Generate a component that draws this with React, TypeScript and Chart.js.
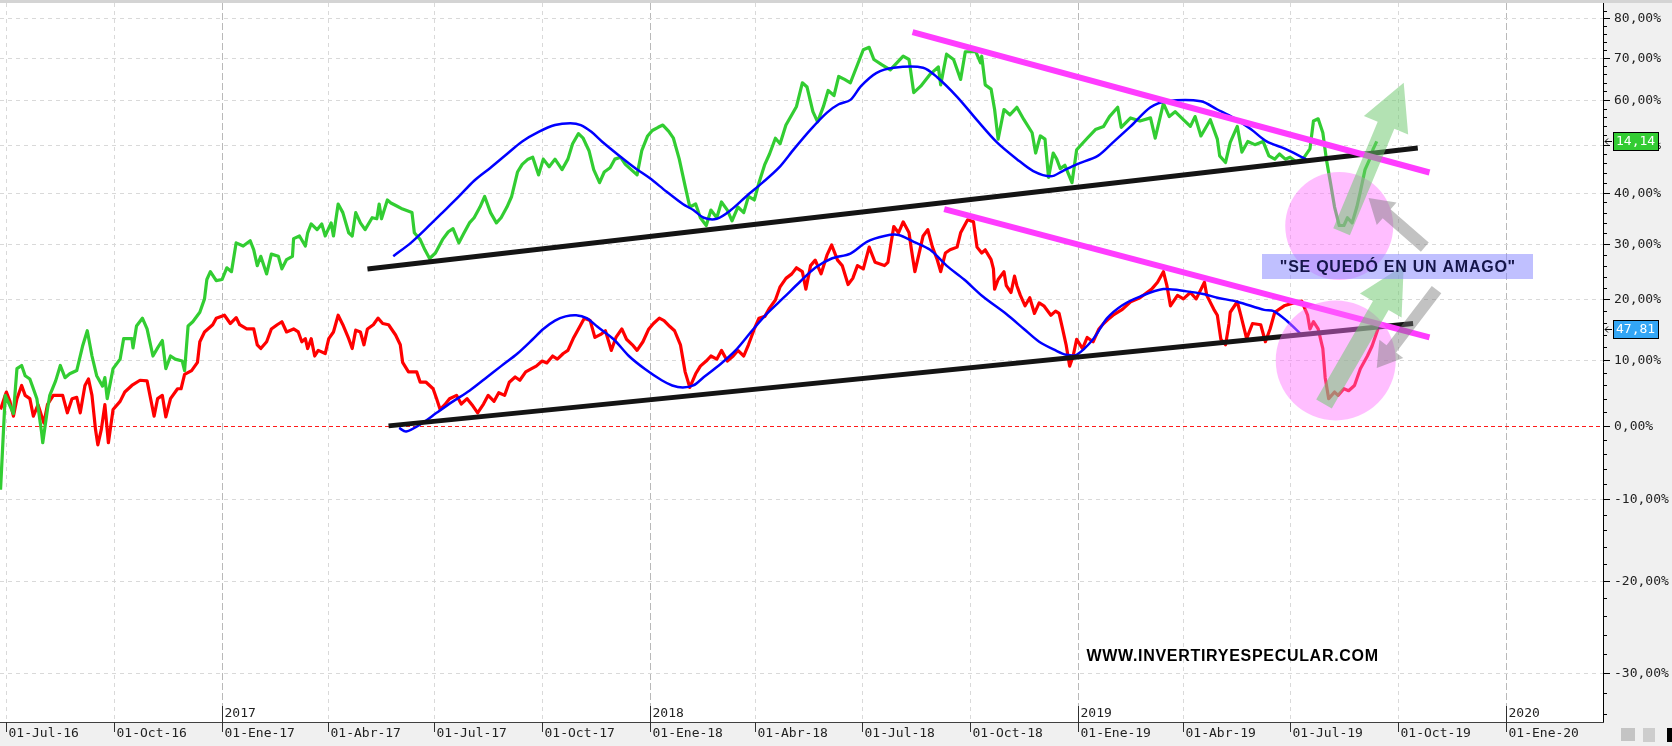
import { useEffect, useRef } from 'react';
import { Chart, registerables } from 'chart.js';

Chart.register(...registerables);

// x values are days since 2016-07-01, y values are % change
const quarterDates = ['2016-07-01', '2016-10-01', '2017-01-01', '2017-04-01', '2017-07-01', '2017-10-01', '2018-01-01', '2018-04-01', '2018-07-01', '2018-10-01', '2019-01-01', '2019-04-01', '2019-07-01', '2019-10-01', '2020-01-01'];
const quarterLabels = ['01-Jul-16', '01-Oct-16', '01-Ene-17', '01-Abr-17', '01-Jul-17', '01-Oct-17', '01-Ene-18', '01-Abr-18', '01-Jul-18', '01-Oct-18', '01-Ene-19', '01-Abr-19', '01-Jul-19', '01-Oct-19', '01-Ene-20'];
const yearDates = ['2017-01-01', '2018-01-01', '2019-01-01', '2020-01-01'];
const yearLabels = ['2017', '2018', '2019', '2020'];
const yTickPct = [80, 70, 60, 50, 40, 30, 20, 10, 0, -10, -20, -30];
const lastValueLabels = ['14,14', '47,81'];

const greenSeries = [
  [-5, -8.8], [-1, 4.5], [6, 1.8], [9, 8.6], [13, 9.1], [16, 7.5], [20, 7.0], [23, 5.5], [26, 4.0], [30, -0.9], [31, -2.4], [35, 2.4], [37, 4.5], [42, 6.7], [46, 9.1], [50, 7.2], [54, 7.8], [60, 8.3], [65, 12.2], [69, 14.7], [73, 10.6], [77, 7.5], [82, 5.9], [84, 7.2], [86, 4.0], [91, 8.6], [97, 10.1], [100, 13.4], [107, 13.4], [108, 11.9], [111, 15.5], [116, 16.8], [120, 15.0], [125, 10.6], [129, 11.9], [133, 13.1], [136, 8.6], [140, 10.6], [144, 10.1], [150, 9.8], [152, 8.3], [155, 15.5], [159, 16.2], [165, 17.8], [169, 20.1], [171, 23.5], [174, 24.9], [179, 23.3], [184, 23.5], [188, 25.6], [192, 24.9], [196, 30.2], [202, 29.6], [208, 30.6], [211, 28.9], [214, 26.0], [217, 27.7], [222, 24.5], [226, 28.1], [232, 27.7], [235, 25.4], [239, 27.1], [244, 27.7], [245, 31.0], [250, 31.5], [255, 29.6], [257, 32.1], [260, 33.8], [265, 32.7], [269, 33.8], [272, 31.5], [277, 34.0], [279, 31.5], [283, 37.7], [287, 36.0], [292, 32.1], [295, 31.5], [298, 36.0], [302, 34.0], [306, 32.7], [312, 35.0], [316, 34.8], [318, 37.7], [320, 34.8], [325, 38.5], [328, 37.9], [333, 37.3], [338, 36.7], [346, 36.0], [348, 32.1], [353, 30.8], [357, 28.9], [361, 27.3], [366, 28.3], [372, 30.8], [377, 32.3], [381, 32.9], [386, 30.2], [390, 31.9], [395, 34.0], [399, 35.0], [404, 37.1], [408, 39.2], [413, 36.0], [418, 34.0], [422, 35.0], [427, 37.1], [431, 39.2], [436, 44.2], [440, 45.8], [445, 46.9], [449, 47.3], [454, 43.6], [458, 46.9], [463, 45.3], [468, 46.9], [474, 44.7], [479, 46.9], [483, 50.2], [488, 52.4], [492, 51.4], [497, 48.7], [501, 44.7], [506, 42.0], [510, 44.2], [515, 45.1], [519, 46.9], [524, 47.3], [528, 45.8], [533, 44.7], [538, 43.6], [542, 48.7], [547, 51.9], [551, 53.1], [556, 53.8], [560, 54.3], [565, 52.9], [569, 51.4], [574, 46.9], [579, 41.3], [583, 37.1], [588, 37.7], [592, 35.0], [597, 33.5], [601, 36.5], [606, 35.0], [610, 38.1], [615, 36.5], [619, 34.4], [624, 37.1], [629, 36.0], [633, 39.2], [638, 38.5], [642, 42.0], [647, 45.8], [651, 48.0], [656, 51.4], [660, 50.2], [665, 54.3], [670, 56.6], [674, 58.5], [679, 64.0], [683, 63.0], [688, 57.3], [692, 55.0], [697, 58.5], [701, 62.2], [706, 61.0], [710, 65.5], [715, 64.8], [720, 64.0], [731, 72.0], [736, 72.6], [740, 69.6], [747, 68.3], [754, 67.1], [765, 70.4], [770, 69.6], [774, 61.7], [780, 63.2], [788, 66.0], [795, 67.8], [797, 63.5], [802, 70.9], [808, 69.6], [814, 64.8], [818, 71.5], [827, 71.5], [831, 68.8], [832, 70.4], [835, 63.5], [840, 62.5], [843, 57.8], [846, 51.2], [851, 57.8], [856, 56.6], [862, 58.3], [868, 55.5], [875, 52.6], [878, 48.2], [882, 51.9], [886, 51.2], [889, 43.1], [893, 48.2], [896, 46.9], [899, 44.9], [903, 45.6], [909, 42.0], [913, 48.9], [922, 51.4], [929, 53.3], [936, 54.0], [941, 56.2], [948, 58.3], [951, 53.8], [959, 55.9], [967, 55.2], [976, 55.9], [980, 51.4], [987, 59.2], [992, 56.2], [997, 57.3], [1004, 55.5], [1010, 54.0], [1014, 56.2], [1019, 51.9], [1027, 55.5], [1033, 51.2], [1035, 47.6], [1040, 46.2], [1044, 50.5], [1050, 54.0], [1054, 48.4], [1059, 50.7], [1065, 50.0], [1072, 50.7], [1077, 47.6], [1082, 46.9], [1086, 48.0], [1091, 46.9], [1095, 47.3], [1100, 46.4], [1106, 46.9], [1112, 49.1], [1115, 55.2], [1119, 55.7], [1123, 52.6], [1126, 46.9], [1130, 41.3], [1133, 37.1], [1137, 33.5], [1141, 33.5], [1144, 35.0], [1148, 34.0], [1152, 37.1], [1155, 40.2], [1159, 44.7], [1163, 46.9], [1166, 49.1], [1169, 50.7],
];

const redSeries = [
  [-5, 2.4], [-1, 4.5], [0, 5.0], [3, 3.6], [6, 1.4], [9, 4.0], [13, 6.0], [16, 4.5], [20, 4.0], [23, 1.4], [27, 3.1], [32, 0.4], [35, 3.1], [40, 4.5], [48, 4.5], [52, 1.9], [56, 4.0], [60, 4.2], [63, 1.9], [67, 6.0], [70, 7.0], [73, 4.5], [76, -0.5], [78, -2.7], [81, -0.5], [84, 3.1], [87, -2.4], [91, 2.4], [97, 3.6], [101, 5.0], [107, 6.0], [114, 6.8], [120, 6.7], [126, 1.4], [129, 4.0], [133, 4.5], [136, 1.3], [140, 4.0], [146, 5.5], [149, 5.5], [152, 7.7], [158, 8.3], [163, 9.6], [165, 12.9], [169, 14.5], [176, 15.7], [179, 16.8], [186, 17.3], [191, 15.9], [196, 16.9], [199, 15.7], [205, 15.0], [211, 15.0], [214, 12.4], [217, 11.8], [222, 12.9], [226, 15.0], [231, 15.7], [235, 16.2], [239, 14.5], [245, 15.0], [249, 14.5], [252, 12.9], [255, 13.4], [257, 11.8], [260, 13.4], [263, 10.6], [266, 11.5], [272, 11.0], [275, 13.4], [279, 14.5], [283, 17.3], [287, 15.7], [292, 13.4], [295, 11.8], [298, 14.8], [302, 14.5], [305, 12.4], [308, 15.0], [313, 15.7], [317, 16.8], [321, 15.9], [326, 15.7], [332, 14.0], [336, 12.4], [338, 9.6], [343, 8.1], [350, 8.1], [353, 6.5], [358, 6.5], [364, 5.5], [367, 4.0], [370, 2.4], [374, 3.1], [378, 4.0], [384, 4.5], [388, 3.2], [393, 4.0], [398, 2.9], [402, 1.9], [407, 3.2], [411, 4.5], [416, 3.6], [420, 4.9], [425, 4.5], [429, 6.5], [434, 7.3], [438, 6.8], [443, 8.1], [448, 8.6], [452, 9.0], [457, 9.8], [461, 9.5], [466, 10.6], [470, 10.1], [475, 11.0], [479, 11.5], [484, 13.6], [488, 15.0], [493, 16.8], [498, 16.4], [502, 13.6], [507, 14.1], [511, 14.7], [516, 11.5], [520, 13.6], [525, 15.0], [529, 13.3], [534, 12.4], [538, 11.5], [543, 12.9], [548, 15.0], [552, 15.9], [557, 16.8], [561, 16.4], [566, 15.4], [570, 14.7], [575, 12.4], [579, 8.1], [583, 5.7], [588, 7.8], [592, 9.0], [597, 9.8], [601, 10.6], [606, 10.1], [610, 11.5], [615, 9.8], [620, 10.6], [624, 11.5], [629, 10.6], [633, 12.4], [638, 15.0], [642, 16.8], [647, 17.1], [651, 18.5], [656, 19.9], [660, 22.2], [665, 23.7], [670, 24.5], [674, 25.6], [679, 24.9], [682, 21.8], [686, 26.0], [690, 27.0], [695, 24.5], [700, 27.9], [704, 29.8], [709, 27.0], [713, 26.0], [718, 22.6], [722, 23.7], [726, 26.0], [731, 25.4], [736, 29.4], [741, 26.6], [749, 26.0], [752, 26.6], [757, 33.3], [761, 32.1], [765, 34.2], [770, 32.1], [772, 29.0], [775, 24.9], [778, 27.7], [782, 31.5], [786, 32.7], [790, 29.4], [794, 27.1], [797, 24.9], [801, 28.3], [805, 28.9], [811, 29.4], [814, 32.1], [820, 34.6], [825, 34.2], [828, 29.4], [832, 28.3], [835, 28.9], [840, 27.1], [842, 25.4], [843, 21.8], [846, 23.5], [851, 24.9], [853, 22.4], [857, 21.2], [860, 24.1], [862, 22.4], [865, 20.7], [869, 18.9], [873, 20.3], [877, 17.6], [881, 19.4], [885, 18.9], [891, 17.3], [895, 18.0], [898, 17.6], [901, 15.0], [904, 12.4], [907, 9.0], [910, 10.6], [913, 13.3], [918, 11.8], [922, 13.6], [927, 12.9], [932, 15.0], [936, 15.9], [941, 16.8], [944, 17.3], [952, 18.3], [959, 19.6], [967, 20.3], [973, 21.2], [977, 21.8], [982, 23.0], [987, 24.9], [990, 22.4], [993, 18.9], [999, 20.7], [1004, 20.1], [1010, 21.2], [1015, 20.1], [1022, 23.0], [1024, 20.7], [1030, 18.3], [1033, 17.3], [1036, 13.3], [1040, 12.4], [1043, 15.9], [1044, 17.8], [1050, 19.6], [1053, 17.3], [1058, 13.4], [1063, 15.9], [1070, 15.7], [1074, 12.9], [1078, 15.0], [1082, 17.8], [1090, 18.9], [1098, 19.4], [1105, 19.7], [1110, 17.3], [1112, 15.0], [1115, 16.2], [1119, 15.0], [1123, 11.8], [1125, 7.2], [1128, 4.0], [1133, 5.0], [1136, 4.5], [1141, 5.5], [1145, 5.2], [1150, 6.0], [1155, 8.6], [1161, 10.6], [1165, 12.2], [1170, 15.0],
];

const greenAverage = [
  [330, 27.7], [345, 30.2], [358, 32.9], [372, 36.0], [386, 39.2], [399, 42.4], [413, 45.1], [427, 48.0], [440, 50.7], [454, 52.8], [468, 54.3], [481, 54.7], [490, 54.3], [499, 52.8], [508, 50.7], [522, 47.8], [536, 45.1], [549, 42.9], [563, 40.2], [577, 37.7], [586, 36.5], [595, 35.0], [606, 34.8], [618, 36.5], [631, 39.2], [645, 42.0], [659, 45.1], [672, 49.1], [686, 53.3], [700, 57.1], [710, 59.0], [720, 60.0], [729, 63.2], [742, 66.3], [757, 67.6], [782, 67.6], [794, 65.3], [811, 60.7], [828, 55.4], [845, 50.5], [862, 46.9], [876, 44.4], [891, 43.3], [901, 44.4], [913, 45.8], [931, 47.6], [944, 50.5], [959, 54.0], [976, 58.3], [990, 59.7], [1019, 59.7], [1033, 57.8], [1047, 55.9], [1062, 53.3], [1075, 50.7], [1091, 49.1], [1103, 47.6], [1112, 46.4],
];

const redAverage = [
  [335, -0.3], [341, -0.8], [354, 0.3], [367, 1.9], [381, 3.6], [395, 5.2], [408, 7.0], [422, 9.0], [436, 11.0], [449, 13.3], [458, 15.0], [468, 16.4], [477, 17.1], [486, 17.3], [495, 16.8], [504, 15.4], [518, 13.3], [531, 10.6], [545, 8.5], [559, 6.8], [568, 6.0], [577, 5.7], [586, 6.0], [595, 7.3], [609, 9.3], [622, 11.5], [636, 14.7], [649, 17.6], [663, 20.3], [677, 23.1], [690, 25.6], [704, 27.3], [720, 28.2], [734, 30.4], [749, 31.5], [761, 31.7], [774, 30.4], [788, 28.9], [802, 26.0], [817, 23.5], [833, 20.5], [853, 17.5], [868, 15.0], [881, 12.9], [895, 11.5], [904, 10.8], [913, 10.8], [927, 13.3], [939, 16.8], [952, 19.0], [967, 20.5], [987, 21.8], [1007, 21.4], [1022, 20.9], [1033, 20.3], [1050, 19.6], [1073, 18.2], [1081, 18.0], [1092, 16.4], [1105, 14.0],
];

// hand-drawn trend lines [day, %]
const upperSupport = [[308, 25.4], [1204, 49.3]];
const lowerSupport = [[326, 0.0], [1200, 15.9]];
const upperResistance = [[773, 76.4], [1214, 44.1]];
const lowerResistance = [[800, 36.7], [1214, 13.6]];

// annotations [day, %]
const circleCenters = [[1137, 33.4], [1134, 9.9]];
const greenArrows = [[[1139, 32.3], [1192, 64.0]], [[1124, 3.2], [1192, 26.0]]];
const grayArrows = [[[1210, 29.4], [1162, 38.9]], [[1220, 21.7], [1169, 8.7]]];
const noteAnchor = [1187, 25.8];
const noteText = '"SE QUEDÓ EN UN AMAGO"';
const watermarkAnchor = [1046, -28.3];
const watermarkText = 'WWW.INVERTIRYESPECULAR.COM';

const ORIGIN = Date.UTC(2016, 6, 1);
function dayOf(iso: string) {
  const [y, m, d] = iso.split('-').map(Number);
  return Math.round((Date.UTC(y, m - 1, d) - ORIGIN) / 86400000);
}
const X_MIN = -5.46;
const X_MAX = 1362;
const Y_MIN = 65.25; // index level, 100 = 0 %
const Y_MAX = 183.99;

const toPoints = (s: number[][]) => s.map(([d, p]) => ({ x: d, y: 100 + p }));
const fmtPct = (p: number) => p.toFixed(2).replace('.', ',') + '%';

function arrowPath(ctx: CanvasRenderingContext2D, x1: number, y1: number, x2: number, y2: number, w: number, hw: number, hl: number) {
  const dx = x2 - x1, dy = y2 - y1, L = Math.hypot(dx, dy);
  const ux = dx / L, uy = dy / L, px = -uy, py = ux;
  const bx = x2 - ux * hl, by = y2 - uy * hl;
  ctx.beginPath();
  ctx.moveTo(x1 + px * w, y1 + py * w);
  ctx.lineTo(bx + px * w, by + py * w);
  ctx.lineTo(bx + px * hw, by + py * hw);
  ctx.lineTo(x2, y2);
  ctx.lineTo(bx - px * hw, by - py * hw);
  ctx.lineTo(bx - px * w, by - py * w);
  ctx.lineTo(x1 - px * w, y1 - py * w);
  ctx.closePath();
  ctx.fill();
}

const drawPlugin = {
  id: 'drawPlugin',
  beforeDraw(chart: any) {
    const { ctx, chartArea: a, width, height } = chart;
    ctx.save();
    ctx.fillStyle = '#f0f0f0';
    ctx.fillRect(0, 0, width, height);
    ctx.fillStyle = '#ffffff';
    ctx.fillRect(a.left, a.top, a.right - a.left, a.bottom - a.top);
    ctx.fillStyle = '#d4d4d4';
    ctx.fillRect(0, 0, width, a.top);
    ctx.restore();
  },
  beforeDatasetsDraw(chart: any) {
    const { ctx, chartArea: a } = chart;
    const xs = chart.scales.x, ys = chart.scales.y;
    ctx.save();
    ctx.lineWidth = 1;
    const years = yearDates.map(dayOf);
    quarterDates.forEach((q) => {
      const d = dayOf(q);
      const x = Math.round(xs.getPixelForValue(d)) + 0.5;
      const isYear = years.includes(d);
      ctx.strokeStyle = isYear ? '#b9b9b9' : '#d9d9d9';
      ctx.setLineDash(isYear ? [7, 3] : [4, 4]);
      ctx.beginPath();
      ctx.moveTo(x, a.top);
      ctx.lineTo(x, a.bottom);
      ctx.stroke();
    });
    yTickPct.forEach((p) => {
      const y = Math.round(ys.getPixelForValue(100 + p)) + 0.5;
      if (p === 0) {
        ctx.strokeStyle = '#ff1a1a';
        ctx.setLineDash([4, 3]);
      } else {
        ctx.strokeStyle = '#d9d9d9';
        ctx.setLineDash([4, 4]);
      }
      ctx.beginPath();
      ctx.moveTo(a.left, y);
      ctx.lineTo(a.right, y);
      ctx.stroke();
    });
    ctx.restore();
  },
  afterDatasetsDraw(chart: any) {
    const { ctx, chartArea: a } = chart;
    const xs = chart.scales.x, ys = chart.scales.y;
    const px = (d: number) => xs.getPixelForValue(d);
    const py = (p: number) => ys.getPixelForValue(100 + p);
    ctx.save();
    ctx.beginPath();
    ctx.rect(a.left, a.top, a.right - a.left, a.bottom - a.top);
    ctx.clip();
    // pink circles
    const radii = [54, 60];
    ctx.fillStyle = 'rgba(255,110,255,0.45)';
    circleCenters.forEach(([d, p], i) => {
      ctx.beginPath();
      ctx.arc(px(d), py(p), radii[i], 0, Math.PI * 2);
      ctx.fill();
    });
    // gray arrows
    ctx.fillStyle = 'rgba(120,120,120,0.45)';
    grayArrows.forEach(([f, t]) => arrowPath(ctx, px(f[0]), py(f[1]), px(t[0]), py(t[1]), 6, 15, 24));
    // green arrows
    ctx.fillStyle = 'rgba(110,200,110,0.52)';
    greenArrows.forEach(([f, t]) => arrowPath(ctx, px(f[0]), py(f[1]), px(t[0]), py(t[1]), 9, 24, 46));
    // note box
    const cx = px(noteAnchor[0]), cy = py(noteAnchor[1]);
    ctx.fillStyle = 'rgba(140,140,255,0.55)';
    ctx.fillRect(Math.round(cx - 136), Math.round(cy - 12.5), 271, 25);
    ctx.font = 'bold 16px "Liberation Sans", Arial, sans-serif';
    (ctx as any).letterSpacing = '0.75px';
    ctx.fillStyle = '#15154a';
    ctx.textBaseline = 'middle';
    ctx.textAlign = 'left';
    let tw = ctx.measureText(noteText).width;
    ctx.fillText(noteText, cx - tw / 2, cy + 1);
    // watermark
    const wx = px(watermarkAnchor[0]), wy = py(watermarkAnchor[1]);
    (ctx as any).letterSpacing = '0.7px';
    ctx.fillStyle = '#000000';
    tw = ctx.measureText(watermarkText).width;
    ctx.fillText(watermarkText, wx - tw / 2, wy);
    ctx.restore();
  },
  afterDraw(chart: any) {
    const { ctx, chartArea: a, width, height } = chart;
    const xs = chart.scales.x, ys = chart.scales.y;
    const py = (p: number) => ys.getPixelForValue(100 + p);
    ctx.save();
    (ctx as any).letterSpacing = '0px';
    ctx.setLineDash([]);
    ctx.lineWidth = 1;
    // bottom axis
    ctx.strokeStyle = '#404040';
    ctx.beginPath();
    ctx.moveTo(0, a.bottom + 0.5);
    ctx.lineTo(a.right + 1, a.bottom + 0.5);
    ctx.stroke();
    // right axis
    ctx.strokeStyle = '#000000';
    ctx.beginPath();
    ctx.moveTo(a.right + 0.5, a.top);
    ctx.lineTo(a.right + 0.5, a.bottom);
    ctx.stroke();
    // minor y ticks
    for (let p = -34; p <= 82; p += 2) {
      if (p % 10 === 0) continue;
      const y = Math.round(py(p)) + 0.5;
      if (y < a.top || y > a.bottom) continue;
      ctx.beginPath();
      ctx.moveTo(a.right, y);
      ctx.lineTo(a.right + 4, y);
      ctx.stroke();
    }
    ctx.font = '13px "DejaVu Sans Mono", monospace';
    ctx.fillStyle = '#222222';
    ctx.textBaseline = 'middle';
    ctx.textAlign = 'left';
    yTickPct.forEach((p) => {
      const y = Math.round(py(p)) + 0.5;
      ctx.beginPath();
      ctx.moveTo(a.right, y);
      ctx.lineTo(a.right + 7, y);
      ctx.stroke();
      ctx.fillText(fmtPct(p), a.right + 11, y);
    });
    // x ticks
    const years = yearDates.map(dayOf);
    ctx.strokeStyle = '#303030';
    quarterDates.forEach((q, i) => {
      const d = dayOf(q);
      const x = Math.round(xs.getPixelForValue(d)) + 0.5;
      const isYear = years.includes(d);
      ctx.beginPath();
      ctx.moveTo(x, isYear ? a.bottom - 16 : a.bottom);
      ctx.lineTo(x, a.bottom + 10);
      ctx.stroke();
      ctx.fillText(quarterLabels[i], x + 2, a.bottom + 12);
    });
    years.forEach((d, i) => {
      const x = Math.round(xs.getPixelForValue(d)) + 0.5;
      ctx.fillText(yearLabels[i], x + 2, a.bottom - 8);
    });
    // last value boxes
    const lasts = [greenSeries[greenSeries.length - 1][1], redSeries[redSeries.length - 1][1]];
    const fills = ['#33cc33', '#33a6f5'];
    lasts.forEach((p, i) => {
      const y = Math.round(py(p));
      ctx.fillStyle = fills[i];
      ctx.fillRect(a.right + 10, y - 9, 45, 18);
      ctx.strokeStyle = '#000000';
      ctx.strokeRect(a.right + 10.5, y - 8.5, 45, 18);
      ctx.fillStyle = '#ffffff';
      ctx.fillText(lastValueLabels[i], a.right + 13, y + 1);
      ctx.strokeStyle = '#000000';
      ctx.beginPath();
      ctx.moveTo(a.right + 9, y + 0.5);
      ctx.lineTo(a.right + 2, y + 0.5);
      ctx.moveTo(a.right + 5, y - 2.5);
      ctx.lineTo(a.right + 2, y + 0.5);
      ctx.lineTo(a.right + 5, y + 3.5);
      ctx.stroke();
    });
    // bottom-right toolbar bits
    ctx.fillStyle = '#c4c4c4';
    ctx.fillRect(a.right + 18, height - 18, 14, 13);
    ctx.fillStyle = '#cdcdcd';
    ctx.fillRect(a.right + 40, height - 18, 12, 14);
    ctx.fillStyle = '#000000';
    ctx.fillRect(width - 5, height - 18, 5, 14);
    ctx.restore();
  },
};

export default function App() {
  const ref = useRef<HTMLCanvasElement>(null);
  useEffect(() => {
    document.body.style.margin = '0';
    const canvas = ref.current;
    if (!canvas) return;
    const line = (series: number[][], color: string, width: number, order: number, tension = 0) => ({
      data: toPoints(series),
      borderColor: color,
      backgroundColor: color,
      borderWidth: width,
      pointRadius: 0,
      fill: false,
      order,
      tension,
      borderJoinStyle: 'round' as const,
    });
    const chart = new Chart(canvas, {
      type: 'line',
      data: {
        datasets: [
          line(upperResistance, '#ff3cff', 6, 1),
          line(lowerResistance, '#ff3cff', 6, 1),
          line(upperSupport, '#141414', 5, 2),
          line(lowerSupport, '#141414', 5, 2),
          line(greenAverage, '#0000ff', 2.5, 3, 0.3),
          line(redAverage, '#0000ff', 2.5, 3, 0.3),
          line(greenSeries, '#32cd32', 3.2, 5),
          line(redSeries, '#ff0000', 3.2, 6),
        ] as any,
      },
      options: {
        animation: false,
        responsive: false,
        devicePixelRatio: 1,
        events: [],
        layout: { padding: { top: 3, right: 69, bottom: 24, left: 0 } },
        plugins: { legend: { display: false }, tooltip: { enabled: false } },
        scales: {
          x: { type: 'linear', min: X_MIN, max: X_MAX, bounds: 'data', display: false },
          y: { type: 'logarithmic', min: Y_MIN, max: Y_MAX, bounds: 'data', display: false },
        },
      } as any,
      plugins: [drawPlugin],
    });
    return () => chart.destroy();
  }, []);
  return (
    <div style={{ width: 1672, height: 746 }}>
      <canvas ref={ref} width={1672} height={746} style={{ display: 'block' }} />
    </div>
  );
}
